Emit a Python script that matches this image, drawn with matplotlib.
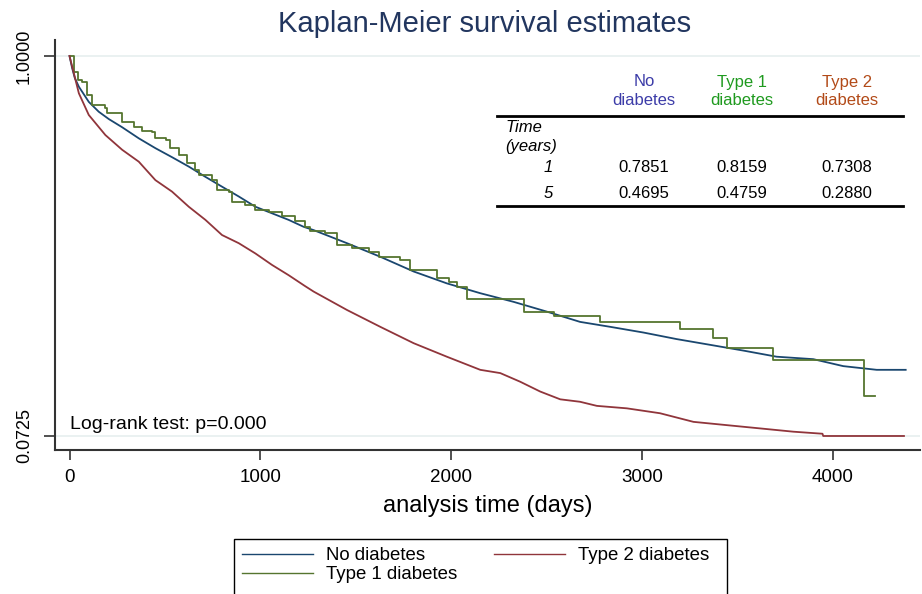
import matplotlib
matplotlib.use('Agg')
import matplotlib.pyplot as plt
from matplotlib.lines import Line2D
from matplotlib.patches import Rectangle

plt.rcParams['font.family'] = ['Liberation Sans', 'DejaVu Sans']

W, H = 922, 594

# survival estimates (days, S(t))
no_diab_days = [0, 14, 28, 49, 101, 153, 206, 276, 363, 450, 537, 625, 712,
                799, 887, 974, 1061, 1148, 1227, 1279, 1454, 1628, 1803, 1977,
                2152, 2326, 2501, 2675, 2832, 3007, 3181, 3356, 3530, 3705,
                3897, 4054, 4229, 4381]
no_diab_surv = [1.0, 0.970, 0.946, 0.925, 0.888, 0.864, 0.846, 0.826, 0.799,
                0.775, 0.753, 0.730, 0.705, 0.681, 0.657, 0.632, 0.616, 0.600,
                0.583, 0.575, 0.543, 0.510, 0.474, 0.445, 0.421, 0.400, 0.376,
                0.351, 0.339, 0.325, 0.309, 0.295, 0.281, 0.266, 0.260, 0.243,
                0.234, 0.234]

type1_days = [0, 23, 45, 66, 92, 118, 188, 197, 249, 276, 336, 380, 433, 450,
              503, 529, 572, 616, 660, 677, 747, 773, 834, 852, 921, 974, 1043,
              1113, 1180, 1235, 1262, 1340, 1401, 1480, 1567, 1620, 1733, 1785,
              1925, 1986, 2029, 2085, 2380, 2539, 2780, 3199, 3373, 3443, 3687,
              4162, 4220]
type1_surv = [1.0, 0.962, 0.941, 0.937, 0.905, 0.880, 0.872, 0.862, 0.860,
              0.840, 0.826, 0.818, 0.815, 0.799, 0.795, 0.775, 0.758, 0.738,
              0.722, 0.710, 0.697, 0.673, 0.669, 0.644, 0.636, 0.624, 0.620,
              0.609, 0.597, 0.583, 0.574, 0.569, 0.539, 0.531, 0.522, 0.510,
              0.502, 0.478, 0.457, 0.449, 0.435, 0.407, 0.376, 0.365, 0.351,
              0.333, 0.311, 0.288, 0.257, 0.171, 0.171]

type2_days = [0, 14, 49, 101, 188, 276, 363, 450, 537, 625, 712, 799, 887, 974,
              1061, 1148, 1232, 1279, 1454, 1628, 1803, 1977, 2152, 2257, 2361,
              2466, 2571, 2675, 2763, 2920, 3094, 3269, 3443, 3618, 3792, 3945,
              3949, 4372]
type2_surv = [1.0, 0.974, 0.909, 0.856, 0.807, 0.771, 0.742, 0.697, 0.669,
              0.632, 0.600, 0.563, 0.543, 0.518, 0.490, 0.465, 0.439, 0.425,
              0.380, 0.339, 0.299, 0.266, 0.234, 0.226, 0.205, 0.181, 0.162,
              0.156, 0.146, 0.140, 0.128, 0.107, 0.099, 0.091, 0.083, 0.078,
              0.0725, 0.0725]

# summary table in the upper right
group_top = ['No', 'Type 1', 'Type 2']
group_bottom = ['diabetes', 'diabetes', 'diabetes']
group_colours = ['#3c3ca8', '#1f9a1f', '#b24a18']
time_years = ['1', '5']
table_no_diab = ['0.7851', '0.4695']
table_type1 = ['0.8159', '0.4759']
table_type2 = ['0.7308', '0.2880']

x_ticks = [0, 1000, 2000, 3000, 4000]
y_ticks = [0.0725, 1.0]
y_tick_labels = ['0.0725', '1.0000']


def fx(px):
    return px / W


def fy(py):
    return 1 - py / H


fig = plt.figure(figsize=(W / 100, H / 100), dpi=100)
ax = fig.add_axes([fx(55), fy(450), fx(920) - fx(55), fy(40) - fy(450)])

navy, forest, maroon = '#1a476f', '#55752f', '#90353b'

ax.plot(no_diab_days, no_diab_surv, color=navy, lw=1.3)
ax.plot(type1_days, type1_surv, color=forest, lw=1.3, drawstyle='steps-post')
ax.plot(type2_days, type2_surv, color=maroon, lw=1.3)

ax.set_xlim(-76, 4456)
ax.set_ylim(0.0383, 1.039)

for y in y_ticks:
    ax.axhline(y, color='#e6efef', lw=1.2, zorder=0)

ax.set_xticks(x_ticks)
ax.set_yticks(y_ticks)
ax.set_yticklabels(y_tick_labels, rotation=90, va='center')
ax.tick_params(axis='x', labelsize=13.5, length=7, width=1.2, color='#333333',
               pad=7)
ax.tick_params(axis='y', labelsize=13, length=8, width=1.2, color='#333333',
               pad=8)

for side in ['top', 'right']:
    ax.spines[side].set_visible(False)
for side in ['left', 'bottom']:
    ax.spines[side].set_color('#333333')
    ax.spines[side].set_linewidth(1.5)

ax.set_xlabel('analysis time (days)', fontsize=17, labelpad=6)

fig.text(fx(485), fy(24), 'Kaplan-Meier survival estimates', fontsize=21,
         color='#22365f', ha='center', va='center')

fig.text(fx(70), fy(429), 'Log-rank test: p=0.000', fontsize=14,
         ha='left', va='baseline')

# table
col_x = [644, 742, 847]
for cx, top, bottom, colour in zip(col_x, group_top, group_bottom, group_colours):
    fig.text(fx(cx), fy(82), top, fontsize=12, color=colour,
             ha='center', va='center')
    fig.text(fx(cx), fy(101), bottom, fontsize=12, color=colour,
             ha='center', va='center')

fig.add_artist(Line2D([fx(497), fx(903)], [fy(116), fy(116)],
                      color='black', lw=2))
fig.add_artist(Line2D([fx(497), fx(903)], [fy(206), fy(206)],
                      color='black', lw=2))

fig.text(fx(505), fy(127), 'Time', fontsize=12, style='italic',
         ha='left', va='center')
fig.text(fx(505), fy(147), '(years)', fontsize=12, style='italic',
         ha='left', va='center')

row_y = [168, 194]
for i, ry in enumerate(row_y):
    fig.text(fx(553), fy(ry), time_years[i], fontsize=12, style='italic',
             ha='right', va='center')
    for cx, col in zip(col_x, [table_no_diab, table_type1, table_type2]):
        fig.text(fx(cx), fy(ry), col[i], fontsize=12, ha='center', va='center')

# legend below the plot, its box runs off the bottom edge
handles = [Line2D([], [], color=navy, lw=1.0),
           Line2D([], [], color=forest, lw=1.0),
           Line2D([], [], color=maroon, lw=1.0)]
labels = ['No diabetes', 'Type 1 diabetes', 'Type 2 diabetes']
fig.legend(handles, labels, loc='upper left',
           bbox_to_anchor=(fx(242), fy(547)), ncol=2, fontsize=13.4,
           frameon=False, handlelength=3.8, handletextpad=0.7,
           columnspacing=2.0, labelspacing=0.12, borderpad=0,
           borderaxespad=0)
fig.add_artist(Rectangle((fx(234), fy(600)), fx(727) - fx(234),
                         fy(539) - fy(600), transform=fig.transFigure,
                         fill=False, edgecolor='black', lw=1.0))

fig.savefig('out.png', dpi=100)
